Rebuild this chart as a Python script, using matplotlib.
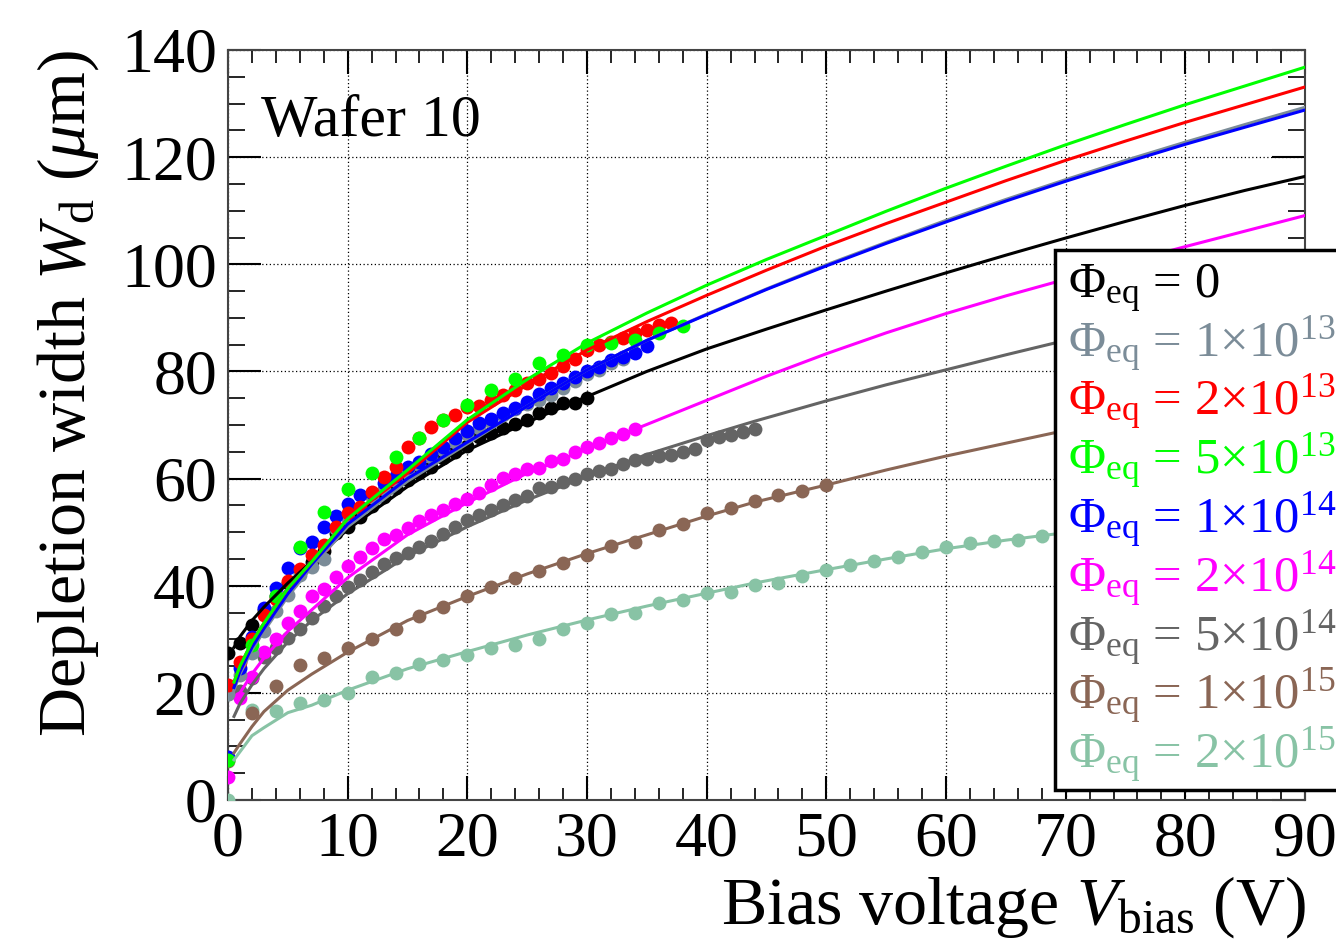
import numpy as np
import matplotlib
matplotlib.use("Agg")
import matplotlib.pyplot as plt
from matplotlib.patches import Rectangle
from matplotlib.ticker import MultipleLocator

plt.rcParams['font.family'] = ['Liberation Serif', 'DejaVu Serif']
plt.rcParams['mathtext.fontset'] = 'custom'
plt.rcParams['mathtext.rm'] = 'Liberation Serif'
plt.rcParams['mathtext.it'] = 'Liberation Serif:italic'

# ---- measured points (V_bias in V, W_d in um) ----
v_0 = list(range(0, 31))
w_0 = [27.4, 29.3, 32.7, 35.5, 38.0, 40.5, 42.5, 44.5, 46.5, 49.8, 51.0, 52.9, 54.8, 56.6, 58.2,
       59.7, 61.0, 62.2, 63.8, 65.0, 66.0, 67.7, 68.6, 69.4, 70.1, 70.9, 72.2, 73.2, 74.1, 74.1, 75.1]

v_1e13 = list(range(0, 34))
w_1e13 = [19.7, 23.3, 27.5, 31.5, 35.3, 38.2, 42.0, 43.5, 45.0, 50.5, 52.5, 54.5, 56.5, 58.0, 59.5,
          61.0, 62.5, 64.0, 65.3, 66.8, 68.3, 69.5, 70.5, 71.8, 72.9, 73.9, 74.6, 75.6, 77.0, 78.3,
          79.5, 80.3, 81.5, 82.3]

v_2e13 = list(range(0, 38))
w_2e13 = [21.5, 25.8, 30.0, 34.5, 37.6, 40.8, 43.2, 45.8, 47.6, 51.0, 53.5, 54.7, 57.5, 60.3, 62.2,
          65.9, 67.5, 69.7, 70.9, 71.9, 73.4, 73.6, 74.7, 75.6, 76.6, 77.8, 78.5, 79.7, 81.0, 82.3,
          84.0, 84.9, 85.5, 86.3, 87.1, 87.7, 88.7, 89.1]

v_5e13 = list(range(0, 40, 2))
w_5e13 = [7.5, 28.9, 38.0, 47.3, 53.8, 58.0, 61.0, 64.0, 67.5, 70.9, 73.7, 76.6, 78.5, 81.5, 83.0,
          84.9, 85.3, 85.9, 87.1, 88.5]

v_1e14 = list(range(0, 36))
w_1e14 = [8.1, 24.6, 30.5, 35.8, 39.5, 43.4, 47.0, 48.2, 50.9, 53.1, 55.3, 57.0, 57.3, 59.1, 60.5,
          62.1, 63.1, 64.6, 65.9, 67.5, 68.9, 70.3, 71.2, 72.2, 73.1, 74.3, 75.8, 77.0, 77.8, 79.0,
          80.1, 80.8, 82.1, 82.7, 83.4, 84.7]

v_2e14 = list(range(0, 35))
w_2e14 = [4.3, 19.0, 23.0, 27.7, 30.0, 33.0, 35.3, 38.0, 39.4, 41.7, 43.6, 45.4, 47.0, 48.7, 49.5,
          50.8, 52.0, 53.2, 54.2, 55.2, 56.2, 57.3, 58.8, 60.2, 60.8, 61.8, 61.9, 63.3, 63.7, 65.0,
          65.9, 66.7, 67.5, 68.4, 69.3]

v_5e14 = list(range(0, 45))
w_5e14 = [19.8, 20.4, 22.7, 26.7, 28.4, 30.3, 32.0, 34.0, 36.3, 38.0, 39.7, 41.0, 42.6, 44.0, 45.2,
          46.1, 47.3, 48.3, 49.6, 51.0, 52.3, 53.2, 54.1, 55.1, 56.0, 56.7, 58.2, 58.5, 59.4, 60.0,
          60.9, 61.4, 61.7, 62.8, 63.5, 63.7, 64.2, 64.4, 65.0, 65.6, 67.2, 67.8, 68.1, 68.7, 69.2]

v_1e15 = list(range(0, 52, 2))
w_1e15 = [7.3, 16.3, 21.2, 25.2, 26.6, 28.3, 30.0, 32.0, 34.3, 36.1, 38.0, 39.8, 41.4, 42.8, 44.2,
          45.7, 47.5, 48.2, 50.4, 51.5, 53.5, 54.6, 55.9, 56.9, 57.7, 58.8]

v_2e15 = list(range(0, 70, 2))
w_2e15 = [0.0, 16.8, 16.7, 18.2, 18.7, 20.0, 23.0, 23.7, 25.4, 26.1, 27.1, 28.3, 28.9, 30.1, 32.0,
          33.1, 34.7, 35.0, 36.7, 37.4, 38.6, 38.9, 40.2, 40.5, 41.8, 43.0, 43.9, 44.6, 45.4, 46.3,
          47.3, 47.9, 48.4, 48.6, 49.3]

# ---- fitted curves ----
fv_top = [0.5, 1, 2, 3, 5, 7, 10, 15, 20, 25, 30, 35, 40, 45, 50, 55, 60, 65, 70, 75, 80, 85, 90]
fw_0 = [28.5, 30.5, 33.5, 36.0, 40.5, 44.5, 50.5, 58.5, 65.3, 70.5, 75.3, 80.0, 84.2, 87.9,
        91.5, 95.0, 98.4, 101.7, 104.9, 108.0, 111.0, 113.8, 116.4]
fw_1e13 = [20.5, 23.5, 28.0, 31.5, 38.0, 43.5, 51.0, 59.5, 66.5, 73.5, 80.3, 85.8, 90.7, 95.4,
           99.9, 104.1, 108.2, 112.1, 115.8, 119.4, 122.8, 126.1, 129.3]
fw_2e13 = [22.0, 25.0, 29.5, 33.0, 39.5, 44.5, 52.5, 61.0, 70.5, 77.5, 84.0, 89.3, 94.2, 98.9,
           103.4, 107.6, 111.6, 115.6, 119.4, 123.0, 126.5, 129.8, 133.1]
fw_5e13 = [22.0, 25.0, 29.5, 33.0, 39.5, 44.5, 52.5, 61.6, 71.0, 78.5, 85.3, 90.9, 96.1, 100.9,
           105.4, 109.9, 114.2, 118.3, 122.3, 126.1, 129.8, 133.3, 136.8]
fw_1e14 = [21.0, 24.0, 28.5, 32.0, 38.5, 44.0, 51.5, 60.0, 66.8, 73.5, 80.3, 85.8, 90.6, 95.3,
           99.7, 103.9, 107.9, 111.8, 115.5, 119.0, 122.4, 125.6, 128.8]
fv_2e14 = [0.7, 1, 2, 3, 5, 7, 10, 15, 20, 25, 30, 34, 40, 45, 50, 55, 60, 65, 70, 75, 80, 85, 90]
fw_2e14 = [18.7, 20.0, 23.5, 26.5, 31.5, 35.5, 41.5, 49.5, 55.5, 61.0, 65.5, 69.2, 74.6, 79.1,
           83.3, 87.2, 90.8, 94.1, 97.2, 100.3, 103.3, 106.2, 109.1]
fv_low = [0.5, 1, 2, 3, 5, 7, 10, 15, 20, 25, 30, 35, 40, 44, 50, 55, 60, 65, 70, 80, 90]
fw_5e14 = [15.6, 18.0, 21.5, 24.5, 29.5, 33.5, 38.5, 45.5, 51.0, 56.0, 60.4, 64.5, 68.0, 70.7,
           74.5, 77.5, 80.3, 83.1, 85.8, 91.0, 96.0]
fw_1e15 = [8.8, 10.5, 13.7, 16.5, 20.5, 23.5, 27.6, 33.5, 38.0, 42.2, 46.0, 49.5, 53.0, 55.6,
           58.8, 61.6, 64.2, 66.6, 69.0, 73.6, 78.0]
fw_2e15 = [7.5, 9.0, 12.0, 13.5, 16.3, 17.7, 20.5, 24.5, 27.7, 30.8, 33.6, 36.2, 38.6, 40.5,
           43.0, 45.0, 46.9, 48.5, 49.9, 53.0, 56.0]

colors = ['black', '#7b8c98', '#ff0000', '#00ff00', '#0000ff', '#ff00ff', '#646464', '#8a6655', '#88c3a5']
fluences = ['0', '1', '2', '5', '1', '2', '5', '1', '2']
exponents = ['', '13', '13', '13', '14', '14', '14', '15', '15']

points = [(v_0, w_0), (v_1e13, w_1e13), (v_2e13, w_2e13), (v_5e13, w_5e13), (v_1e14, w_1e14),
          (v_2e14, w_2e14), (v_5e14, w_5e14), (v_1e15, w_1e15), (v_2e15, w_2e15)]
fits = [(fv_top, fw_0), (fv_top, fw_1e13), (fv_top, fw_2e13), (fv_top, fw_5e13), (fv_top, fw_1e14),
        (fv_2e14, fw_2e14), (fv_low, fw_5e14), (fv_low, fw_1e15), (fv_low, fw_2e15)]

def legend_label(mant, exp):
    if exp == '':
        return r'$\Phi_{\rm eq}$ = ' + mant
    return r'$\Phi_{\rm eq}$ = ' + mant + '\u00d710$^{' + exp + '}$'

fig = plt.figure(figsize=(13.36, 9.42), dpi=100)
ax = fig.add_axes([228/1336, 142/942, 1077/1336, 750/942])

# draw order: low fluence first so that top group sits above
order = [8, 7, 6, 5, 0, 1, 4, 2, 3]
for i in order:
    vx, wy = points[i]
    ax.plot(vx, wy, 'o', color=colors[i], ms=10, mew=0, zorder=3)
for i in order:
    fx, fy = fits[i]
    ax.plot(fx, fy, '-', color=colors[i], lw=2.2, zorder=4, solid_joinstyle='round')

ax.set_xlim(0, 90)
ax.set_ylim(0, 140)
ax.xaxis.set_major_locator(MultipleLocator(10))
ax.xaxis.set_minor_locator(MultipleLocator(2))
ax.yaxis.set_major_locator(MultipleLocator(20))
ax.yaxis.set_minor_locator(MultipleLocator(5))
ax.grid(True, which='major', color='black', linestyle=(0, (1, 2)), linewidth=0.9, zorder=0)
ax.tick_params(axis='x', which='major', direction='in', length=17, width=1.5, top=True,
               labelsize=46, pad=8)
ax.tick_params(axis='x', which='minor', direction='in', length=9, width=1.2, top=True)
ax.tick_params(axis='y', which='major', direction='in', length=24, width=1.5, right=True,
               labelsize=46, pad=8)
ax.tick_params(axis='y', which='minor', direction='in', length=12, width=1.2, right=True)
for s in ax.spines.values():
    s.set_linewidth(1.5)
    s.set_color('#444444')

ax.text(0.031, 0.885, 'Wafer 10', transform=ax.transAxes, fontsize=43, va='baseline', ha='left')

fig.text(68/1336, 1 - 50/942, r'Depletion width $W_{\rm d}$ ($\mu$m)', rotation=90,
         ha='center', va='top', fontsize=49)
fig.text(1306/1336, 18/942, r'Bias voltage $V_{\rm bias}$ (V)', ha='right', va='baseline',
         fontsize=49)

# legend box (extends past the right edge, as in the original)
box = Rectangle((1055/1336, 152/942), 0.4, 540/942, transform=fig.transFigure,
                facecolor='white', edgecolor='black', linewidth=2.5, zorder=10)
fig.patches.append(box)
for k in range(9):
    yb = 1 - (298 + k * 58.8) / 942
    fig.text(1068/1336, yb, legend_label(fluences[k], exponents[k]), color=colors[k],
             fontsize=36.5, ha='left', va='baseline', zorder=11)

fig.savefig('out.png', dpi=100)
